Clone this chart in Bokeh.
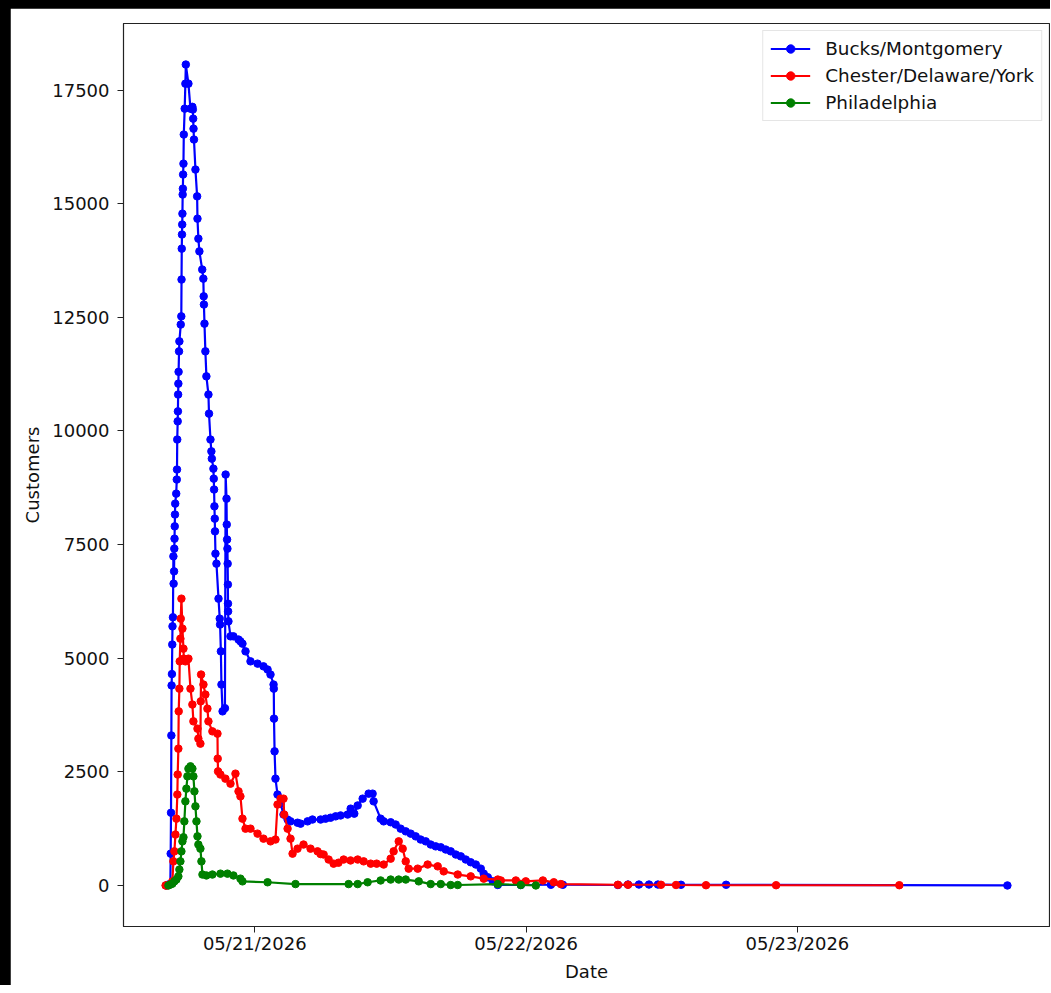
import pandas as pd
from bokeh.plotting import figure
from bokeh.layouts import column, row
from bokeh.models import Range1d, FixedTicker, DatetimeTickFormatter, ColumnDataSource, Div
from bokeh.embed import file_html
from bokeh.resources import INLINE

# ---------------- data (hours after 2026-05-20 00:00, customers out) -------------
BASE_DATE = "2026-05-20 00:00"

bucks_hours = [
    16.15, 16.36, 16.53, 16.56, 16.59, 16.62, 16.64, 16.67, 16.70, 16.72, 16.76,
    16.80, 16.82, 16.86, 16.88, 16.90, 16.92, 16.94, 16.96, 17.05, 17.10, 17.12,
    17.14, 17.18, 17.20, 17.22, 17.24, 17.26, 17.30, 17.33, 17.45, 17.50, 17.52,
    17.54, 17.56, 17.58, 17.60, 17.62, 17.64, 17.66, 17.69, 17.72, 17.80, 17.86,
    17.90, 18.13, 18.31, 18.48, 18.52, 18.55, 18.58, 18.62, 18.75, 18.90, 18.93,
    19.01, 19.10, 19.35, 19.45, 19.48, 19.50, 19.55, 19.63, 19.72, 19.90, 19.95,
    20.08, 20.16, 20.20, 20.34, 20.37, 20.40, 20.43, 20.46, 20.48, 20.52, 20.61,
    20.79, 20.90, 20.93, 21.00, 21.05, 21.15, 21.36, 21.42, 21.50, 21.52, 21.55,
    21.58, 21.60, 21.62, 21.63, 21.64, 21.67, 21.85, 22.11, 22.56, 22.73, 22.91,
    23.18, 23.62, 24.24, 24.77, 25.13, 25.39, 25.66, 25.68, 25.70, 25.75, 25.83,
    26.01, 26.28, 26.54, 26.90, 27.16, 27.78, 28.05, 28.67, 29.10, 29.82, 30.26,
    30.70, 31.15, 31.59, 32.21, 32.48, 32.80, 33.10, 33.54, 34.07, 34.42, 34.51,
    35.13, 35.40, 36.02, 36.46, 36.90, 37.35, 37.79, 38.23, 38.67, 39.12, 39.56,
    40.00, 40.45, 40.89, 41.33, 41.78, 42.22, 42.66, 43.10, 43.55, 43.99, 44.25,
    44.61, 45.05, 45.49, 47.53, 50.19, 51.25, 56.12, 57.01, 57.98, 58.87, 59.66,
    61.70, 65.69, 90.57,
]
bucks_customers = [
    0, 20, 30, 700, 1600, 3300, 4400, 4650, 5300, 5700, 5900,
    7240, 6640, 6910, 7410, 7630, 7900, 8160, 8400, 8620, 8930, 9150,
    9810, 10210, 10430, 10800, 11040, 11300, 11750, 11970, 12340, 12520, 13330,
    14010, 14320, 14540, 14780, 15200, 15330, 15640, 15880, 16520, 17090, 17640,
    18060, 17640, 17090, 17130, 17070, 16870, 16650, 16410, 15750, 15160, 14670,
    14230, 13950, 13550, 13350, 12960, 12780, 12360, 11750, 11200, 10800, 10380,
    9810, 9550, 9390, 9170, 8950, 8710, 8340, 8070, 7790, 7300, 7080,
    6310, 5870, 5740, 5150, 4420, 3830, 3900, 9040, 8510, 7940, 7610,
    7410, 7080, 6620, 6200, 6030, 5810, 5480, 5480, 5410, 5370, 5320,
    5150, 4930, 4880, 4820, 4750, 4640, 4420, 4330, 3670, 2950, 2350,
    2000, 1800, 1560, 1450, 1410, 1380, 1360, 1410, 1450, 1450, 1470,
    1490, 1520, 1540, 1560, 1690, 1580, 1760, 1910, 2020, 2020, 1850,
    1470, 1410, 1390, 1340, 1250, 1190, 1140, 1080, 1010, 970, 900,
    860, 840, 790, 750, 680, 640, 570, 510, 460, 370, 260, 180,
    90, 10, 10, 15, 15, 10, 20, 20, 20, 20, 15,
    15, 0, 0,
]

chester_hours = [
    16.11, 16.22, 16.36, 16.71, 16.80, 16.89, 16.98, 17.07, 17.15, 17.18, 17.24,
    17.27, 17.33, 17.36, 17.42, 17.45, 17.51, 17.60, 17.69, 17.72, 17.86, 18.04,
    18.13, 18.31, 18.48, 18.57, 18.93, 19.01, 19.19, 19.22, 19.25, 19.46, 19.63,
    19.81, 19.90, 20.25, 20.70, 20.72, 20.75, 20.96, 21.40, 21.85, 22.29, 22.56,
    22.73, 22.91, 23.18, 23.62, 24.24, 24.77, 25.39, 25.83, 26.01, 26.28, 26.54,
    26.60, 26.90, 27.16, 27.34, 27.78, 28.31, 28.93, 29.55, 29.82, 30.09, 30.53,
    30.97, 31.40, 31.86, 32.47, 33.10, 33.63, 34.25, 34.78, 35.40, 36.02, 36.28,
    36.73, 37.08, 37.35, 37.61, 38.41, 39.29, 40.18, 40.71, 41.95, 43.10, 44.25,
    45.49, 45.76, 47.09, 47.97, 49.48, 50.45, 51.07, 56.12, 57.01, 59.93, 61.26,
    63.91, 70.11, 81.01,
]
chester_customers = [
    0, 0, 10, 90, 530, 750, 1120, 1470, 2000, 2440, 3010,
    3830, 4330, 4930, 5430, 5870, 6310, 5650, 5210, 4990, 4930, 4970,
    4990, 4330, 3980, 3610, 3450, 3230, 3120, 4050, 4640, 4420, 4200,
    3890, 3610, 3390, 3340, 2790, 2510, 2440, 2350, 2240, 2460, 2070,
    1960, 1470, 1250, 1250, 1140, 1030, 970, 1010, 1780, 1910, 1910,
    1560, 1250, 1030, 700, 810, 900, 810, 750, 690, 680, 570,
    480, 500, 570, 550, 570, 530, 480, 480, 460, 590, 750,
    970, 810, 530, 370, 370, 460, 420, 310, 240, 200, 150,
    130, 110, 110, 90, 110, 70, 30, 15, 15, 15, 10,
    5, 5, 5,
]

philly_hours = [
    16.36, 16.53, 16.71, 16.89, 17.07, 17.24, 17.33, 17.42, 17.51, 17.60, 17.69,
    17.77, 17.86, 17.95, 18.04, 18.13, 18.31, 18.48, 18.57, 18.66, 18.75, 18.84,
    18.93, 19.01, 19.19, 19.28, 19.37, 19.72, 20.25, 20.96, 21.58, 22.11, 22.73,
    22.91, 25.13, 27.60, 32.30, 33.10, 33.98, 35.13, 36.02, 36.73, 37.35, 38.50,
    39.56, 40.45, 41.33, 41.95, 45.49, 47.53, 48.86,
]
philly_customers = [
    0, 20, 40, 90, 130, 200, 350, 530, 750, 970, 1060,
    1410, 1850, 2130, 2400, 2570, 2620, 2570, 2400, 2070, 1740, 1410,
    1080, 900, 810, 530, 240, 220, 240, 260, 260, 220, 150,
    90, 70, 30, 30, 30, 70, 110, 130, 130, 130, 90,
    30, 30, 10, 10, 30, 10, 0,
]

series_names = ["Bucks/Montgomery", "Chester/Delaware/York", "Philadelphia"]
series_colors = ["#0000ff", "#ff0000", "#008000"]
x_tick_dates = ["2026-05-21", "2026-05-22", "2026-05-23"]
y_ticks = [0, 2500, 5000, 7500, 10000, 12500, 15000, 17500]

# ---------------- build ----------------
base = pd.Timestamp(BASE_DATE)
series = [
    (bucks_hours, bucks_customers),
    (chester_hours, chester_customers),
    (philly_hours, philly_customers),
]

all_t, all_v = [], []
for h, v in series:
    all_t += h
    all_v += v
tmin, tmax = min(all_t), max(all_t)
vmin, vmax = min(all_v), max(all_v)
tpad = (tmax - tmin) * 0.05
vpad = (vmax - vmin) * 0.05

to_dt = lambda hrs: base + pd.to_timedelta(hrs, unit="h")

FONT = "DejaVu Sans"
TXT = "#111111"
FS = "18px"

fig = figure(
    width=1040, height=977,
    x_axis_type="datetime",
    x_range=Range1d(to_dt(tmin - tpad), to_dt(tmax + tpad)),
    y_range=Range1d(vmin - vpad, vmax + vpad),
    output_backend="svg", toolbar_location=None,
    min_border_left=113, min_border_right=1, min_border_top=15, min_border_bottom=59,
    background_fill_color="white", border_fill_color="white",
    margin=0,
)
fig.grid.visible = False
fig.outline_line_color = "#222222"
fig.outline_line_width = 1.2

for (h, v), name, col in zip(series, series_names, series_colors):
    src = ColumnDataSource(dict(x=to_dt(h), y=v))
    fig.line("x", "y", source=src, line_color=col, line_width=2.2, legend_label=name)
    fig.scatter("x", "y", source=src, size=7.5, fill_color=col, line_color=col, legend_label=name)

tick_ms = [pd.Timestamp(d).value // 10**6 for d in x_tick_dates]
fig.xaxis.ticker = FixedTicker(ticks=tick_ms)
fmt = "%m/%d/%Y"
fig.xaxis.formatter = DatetimeTickFormatter(
    microseconds=fmt, milliseconds=fmt, seconds=fmt, minsec=fmt, minutes=fmt,
    hourmin=fmt, hours=fmt, days=fmt, months=fmt, years=fmt,
)
fig.yaxis.ticker = FixedTicker(ticks=y_ticks)

fig.xaxis.axis_label = "Date"
fig.yaxis.axis_label = "Customers"

for ax in (fig.xaxis, fig.yaxis):
    ax.axis_line_color = "#222222"
    ax.major_tick_line_color = "#222222"
    ax.major_tick_out = 6
    ax.major_tick_in = 0
    ax.minor_tick_out = 0
    ax.minor_tick_in = 0
    ax.major_label_text_font = FONT
    ax.major_label_text_font_size = FS
    ax.major_label_text_color = TXT
    ax.axis_label_text_font = FONT
    ax.axis_label_text_font_size = FS
    ax.axis_label_text_font_style = "normal"
    ax.axis_label_text_color = TXT
fig.xaxis.major_label_standoff = 0
fig.xaxis.axis_label_standoff = 4
fig.yaxis.major_label_standoff = 8
fig.yaxis.axis_label_standoff = 6

lg = fig.legend[0]
lg.location = "top_right"
lg.margin = 7
lg.padding = 7
lg.spacing = 6
lg.glyph_width = 40
lg.glyph_height = 21
lg.label_height = 21
lg.label_standoff = 15
lg.label_text_font = FONT
lg.label_text_font_size = "18.4px"
lg.label_text_color = TXT
lg.border_line_color = "#cccccc"
lg.border_line_width = 1
lg.background_fill_color = "white"
lg.background_fill_alpha = 0.8

# black edge of the original screenshot (top and left)
BLACK = {"background-color": "black"}
top_bar = Div(text="", width=1050, height=8, margin=0, styles=BLACK)
left_bar = Div(text="", width=10, height=977, margin=0,
               styles={"background-color": "black", "height": "977px", "width": "10px"})
p = column(top_bar, row(left_bar, fig, spacing=0, margin=0, styles=BLACK),
           spacing=0, margin=0, styles=BLACK)

open("out.html", "w").write(file_html(p, INLINE))
